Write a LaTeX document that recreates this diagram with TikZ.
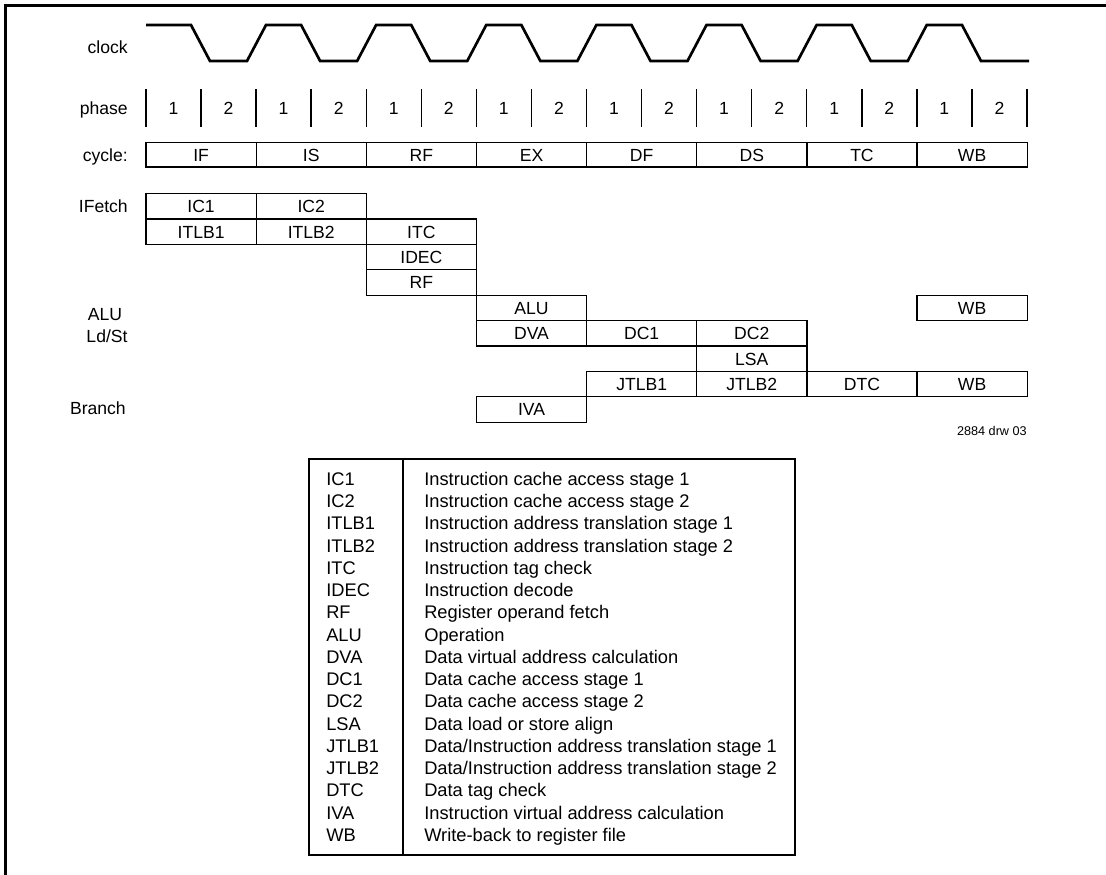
\documentclass[tikz,border=0pt]{standalone}
\usepackage{fontspec}
\setmainfont{Liberation Sans}
\usetikzlibrary{positioning}
\newcommand\diagfont{\fontsize{12.5}{15}\selectfont}
\newcommand\keyfont{\fontsize{13}{15}\selectfont}
\tikzset{
  stage/.style={
    rectangle, draw, line width=0.9pt,
    minimum width=2.753cm, minimum height=0.635cm,
    inner sep=0pt, outer sep=0pt,
    font=\diagfont, text height=9pt, text depth=0pt
  },
  cyc/.style={stage, minimum height=0.61cm},
  rowlbl/.style={anchor=east, inner sep=0pt, font=\diagfont, text height=9pt, text depth=0pt},
  num/.style={inner sep=0pt, font=\diagfont, text height=9pt, text depth=0pt},
  keylbl/.style={anchor=west, inner sep=0pt, font=\keyfont, text height=9pt, text depth=0pt},
  clk/.style={line width=1.9pt},
  tick/.style={line width=1pt},
  keybox/.style={line width=1.5pt},
}

\begin{document}
\begin{tikzpicture}[x=0.025cm, y=-0.025cm, node distance=0pt]
  \useasboundingbox (0,0) rectangle (1106,875);
  \draw[line width=1.9pt] (5.5,875) -- (5.5,5.5) -- (1106,5.5);

  % row labels
  \node[rowlbl] (clklbl) at (128,47) {clock};
  \node[rowlbl] (phlbl) at (128,108) {phase};
  \node[rowlbl] (cyclbl) at (128,155) {cycle:};
  \node[rowlbl] (iflbl) at (128,206) {IFetch};
  \node[num] (alulbl) at (105,314) {ALU};
  \node[num] (lslbl) at (107,336) {Ld/St};
  \node[rowlbl] (brlbl) at (126,408) {Branch};

  % clock and phases
  \draw[clk] (146,25) foreach \k in {0,...,6} {
      -- ({191+110.125*\k},25) -- ({210+110.125*\k},61)
      -- ({247+110.125*\k},61) -- ({266+110.125*\k},25) }
    -- (962,25) -- (981,61) -- (1029,61);
  \foreach \i in {0,...,16}
    \draw[tick] ({146+55.0625*\i},89) -- ({146+55.0625*\i},127);
  \foreach \i in {0,...,7} {
    \node[num] (pa\i) at ({173.5+110.125*\i},108) {1};
    \node[num] (pb\i) at ({228.6+110.125*\i},108) {2};
  }

  % cycles
  \node[cyc, anchor=north west] (cif) at (146,142.7) {IF};
  \node[cyc, right=of cif] (cis) {IS};
  \node[cyc, right=of cis] (crf) {RF};
  \node[cyc, right=of crf] (cex) {EX};
  \node[cyc, right=of cex] (cdf) {DF};
  \node[cyc, right=of cdf] (cds) {DS};
  \node[cyc, right=of cds] (ctc) {TC};
  \node[cyc, right=of ctc] (cwb) {WB};

  % pipeline stages
  \node[stage, anchor=north west] (ic1) at (146,193.6) {IC1};
  \node[stage, right=of ic1] (ic2) {IC2};
  \node[stage, below=of ic1] (itlb1) {ITLB1};
  \node[stage, right=of itlb1] (itlb2) {ITLB2};
  \node[stage, right=of itlb2] (itc) {ITC};
  \node[stage, below=of itc] (idec) {IDEC};
  \node[stage, below=of idec] (rf) {RF};
  \node[stage, below right=of rf] (alu) {ALU};
  \node[stage, below=of alu] (dva) {DVA};
  \node[stage, right=of dva] (dc1) {DC1};
  \node[stage, right=of dc1] (dc2) {DC2};
  \node[stage, below=of dc2] (lsa) {LSA};
  \node[stage, below=of lsa] (jtlb2) {JTLB2};
  \node[stage, left=of jtlb2] (jtlb1) {JTLB1};
  \node[stage, right=of jtlb2] (dtc) {DTC};
  \node[stage, right=of dtc] (wbl) {WB};
  \node[stage, above=1.27cm of wbl] (wba) {WB};
  \node[stage, below=1.27cm of dva] (iva) {IVA};

  \node[anchor=east, inner sep=0pt, font=\fontsize{9}{11}\selectfont,
        text height=6.5pt, text depth=0pt] (drw) at (1027,431) {2884 drw 03};

  % key
  \draw[keybox] (309,459) rectangle (795,855);
  \draw[keybox] (403,459) -- (403,855);
  \foreach \ab/\de [count=\i from 0] in {
      IC1/{Instruction cache access stage 1},
      IC2/{Instruction cache access stage 2},
      ITLB1/{Instruction address translation stage 1},
      ITLB2/{Instruction address translation stage 2},
      ITC/{Instruction tag check},
      IDEC/{Instruction decode},
      RF/{Register operand fetch},
      ALU/{Operation},
      DVA/{Data virtual address calculation},
      DC1/{Data cache access stage 1},
      DC2/{Data cache access stage 2},
      LSA/{Data load or store align},
      JTLB1/{Data/Instruction address translation stage 1},
      JTLB2/{Data/Instruction address translation stage 2},
      DTC/{Data tag check},
      IVA/{Instruction virtual address calculation},
      WB/{Write-back to register file}} {
    \node[keylbl] (ab\i) at (326,479+22.25*\i) {\ab};
    \node[keylbl] (de\i) at (424,479+22.25*\i) {\de};
  }
\end{tikzpicture}
\end{document}
